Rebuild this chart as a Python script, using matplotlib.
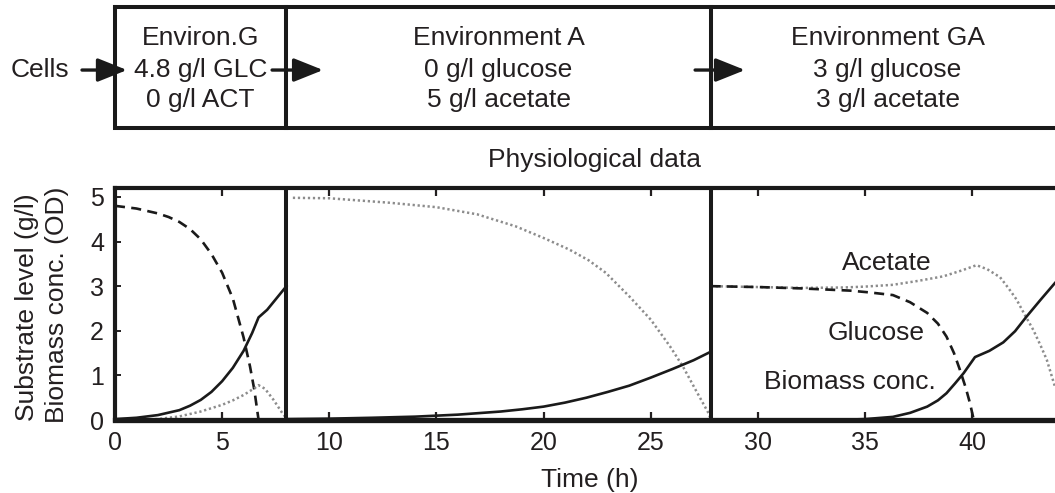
import matplotlib
matplotlib.use("Agg")
from matplotlib import pyplot as plt

plt.rcParams['font.family'] = ['Liberation Sans', 'DejaVu Sans']
plt.rcParams['font.size'] = 19
plt.rcParams['text.color'] = '#231f20'
plt.rcParams['xtick.color'] = '#231f20'
plt.rcParams['ytick.color'] = '#231f20'
plt.rcParams['xtick.labelsize'] = 18
plt.rcParams['ytick.labelsize'] = 18

# ---------------------------------------------------------------------
# Données : trois environnements successifs (temps en h)
# ---------------------------------------------------------------------
bornes = [0, 8, 27.8, 44.3]
environnements = [
    ["Environ.G", "4.8 g/l GLC", "0 g/l ACT"],
    ["Environment A", "0 g/l glucose", "5 g/l acetate"],
    ["Environment GA", "3 g/l glucose", "3 g/l acetate"],
]

# Environnement G
t_glc_g = [0, 1, 2, 2.5, 3, 3.5, 4, 4.5, 5, 5.5, 6, 6.3, 6.5, 6.7]
glc_g = [4.8, 4.74, 4.63, 4.55, 4.44, 4.28, 4.05, 3.72, 3.3, 2.72, 1.85, 1.2, 0.68, 0.0]
t_bio_g = [0, 1, 2, 3, 3.5, 4, 4.5, 5, 5.5, 6, 6.4, 6.7, 7.1, 8]
bio_g = [0.02, 0.05, 0.11, 0.22, 0.32, 0.45, 0.63, 0.87, 1.17, 1.55, 1.95, 2.3, 2.47, 3.0]
t_act_g = [0, 2, 3, 4, 5, 5.5, 6, 6.5, 6.7, 7.0, 7.4, 7.8, 8]
act_g = [0.0, 0.02, 0.08, 0.19, 0.34, 0.44, 0.56, 0.71, 0.78, 0.7, 0.45, 0.16, 0.04]

# Environnement A
t_act_a = [8.3, 10, 12.8, 15, 16.9, 18.7, 20, 21.2, 22.1, 22.9, 24.0, 25.0, 25.9, 26.5, 27.1, 27.7, 27.8]
act_a = [4.98, 4.97, 4.87, 4.77, 4.61, 4.34, 4.08, 3.82, 3.58, 3.3, 2.77, 2.25, 1.65, 1.2, 0.67, 0.15, 0.02]
t_bio_a = [8, 10, 12, 14, 16, 18, 19, 20, 21, 22, 23, 24, 25, 26, 27, 27.8]
bio_a = [0.02, 0.03, 0.05, 0.075, 0.12, 0.19, 0.24, 0.3, 0.39, 0.5, 0.63, 0.77, 0.95, 1.14, 1.34, 1.53]

# Environnement GA
t_glc_ga = [27.8, 30, 32, 34.3, 35.2, 36.3, 37.1, 37.9, 38.4, 38.8, 39.15, 39.43, 39.7, 39.9, 40.05, 40.1]
glc_ga = [3.0, 2.98, 2.95, 2.9, 2.86, 2.8, 2.64, 2.4, 2.16, 1.87, 1.5, 1.12, 0.72, 0.37, 0.05, 0.0]
t_act_ga = [27.8, 30, 32, 34, 35, 36.3, 37.5, 38.65, 39.5, 40.2, 40.7, 41.3, 41.7, 42.07, 42.45, 42.85, 43.2, 43.48, 43.86]
act_ga = [3.0, 2.98, 2.96, 2.97, 2.99, 3.03, 3.12, 3.22, 3.35, 3.47, 3.38, 3.2, 2.95, 2.7, 2.36, 2.02, 1.66, 1.35, 0.75]
t_bio_ga = [27.8, 33.5, 35, 36.3, 37.1, 37.9, 38.4, 38.8, 39.2, 39.6, 40.13, 40.8, 41.45, 42.0, 42.54, 43.2, 43.86]
bio_ga = [0.0, 0.0, 0.02, 0.07, 0.16, 0.3, 0.44, 0.6, 0.82, 1.05, 1.41, 1.55, 1.74, 1.99, 2.32, 2.7, 3.07]

etiquettes = [("Acetate", 36.0, 3.52), ("Glucose", 35.5, 1.95), ("Biomass conc.", 34.3, 0.86)]

# ---------------------------------------------------------------------
# Figure
# ---------------------------------------------------------------------
W, H = 1055, 493
fig = plt.figure(figsize=(W / 100, H / 100), dpi=100)
xmax = 45
px_par_h = 21.43
largeur = xmax * px_par_h / W

ax = fig.add_axes([115 / W, 1 - 420 / H, largeur, (420 - 188) / H])
ax_env = fig.add_axes([115 / W, 1 - 128 / H, largeur, (128 - 7) / H])

noir = '#1a1a1a'
gris = '#8c8c8c'
style_glc = dict(color=noir, lw=1.9, linestyle=(0, (3.8, 2.4)))
style_act = dict(color=gris, lw=1.8, linestyle=(0, (0.9, 1.1)))
style_bio = dict(color=noir, lw=1.9)

ax.plot(t_glc_g, glc_g, **style_glc)
ax.plot(t_act_g, act_g, **style_act)
ax.plot(t_bio_g, bio_g, **style_bio)
ax.plot(t_act_a, act_a, **style_act)
ax.plot(t_bio_a, bio_a, **style_bio)
ax.plot(t_act_ga, act_ga, **style_act)
ax.plot(t_glc_ga, glc_ga, **style_glc)
ax.plot(t_bio_ga, bio_ga, **style_bio)

for b in bornes[1:3]:
    ax.axvline(b, color=noir, lw=2.9)

for txt, x, y in etiquettes:
    ax.text(x, y, txt, ha='center', va='center')

ax.set_xlim(0, xmax)
ax.set_ylim(0, 5.2)
ax.set_xticks(range(0, 45, 5))
ax.set_yticks(range(0, 6))
ax.tick_params(axis='x', direction='in', length=6, width=1.6, top=True, pad=8)
ax.tick_params(axis='y', direction='in', length=4, width=1.4, pad=8)
ax.spines['right'].set_visible(False)
for s in ['left', 'top']:
    ax.spines[s].set_linewidth(3.0)
    ax.spines[s].set_color(noir)
ax.spines['bottom'].set_linewidth(3.8)
ax.spines['bottom'].set_color(noir)

fig.text(595 / W, 1 - 160 / H, "Physiological data", ha='center', va='center')
fig.text(590 / W, 1 - 480 / H, "Time (h)", ha='center', va='center')
fig.text(27 / W, 1 - 307 / H, "Substrate level (g/l)", rotation=90, ha='center', va='center')
fig.text(57 / W, 1 - 305 / H, "Biomass conc. (OD)", rotation=90, ha='center', va='center')

# Rangée des environnements
ax_env.set_xlim(0, xmax)
ax_env.set_ylim(0, 1)
ax_env.axis('off')
ax_env.plot([bornes[0], bornes[-1], bornes[-1], bornes[0], bornes[0]], [1, 1, 0, 0, 1],
            color=noir, lw=2.9, clip_on=False, solid_joinstyle='miter')
for b in bornes[1:3]:
    ax_env.plot([b, b], [0, 1], color=noir, lw=2.9, clip_on=False)

lignes_y = [0.744, 0.479, 0.231]
for i, lignes in enumerate(environnements):
    xc = (bornes[i] + bornes[i + 1]) / 2
    for txt, y in zip(lignes, lignes_y):
        ax_env.text(xc, y, txt, ha='center', va='center')

ax_env.text(-3.5, 0.479, "Cells", ha='center', va='center', clip_on=False)
fleches = [(-1.54, 0.56), (7.33, 9.71), (27.07, 29.4)]
for x0, x1 in fleches:
    ax_env.annotate("", xy=(x1, 0.479), xytext=(x0, 0.479), annotation_clip=False,
                    arrowprops=dict(arrowstyle='-|>,head_length=0.9,head_width=0.36',
                                    mutation_scale=20, lw=2.4, color=noir,
                                    shrinkA=0, shrinkB=0))

fig.savefig("out.png", dpi=100)
